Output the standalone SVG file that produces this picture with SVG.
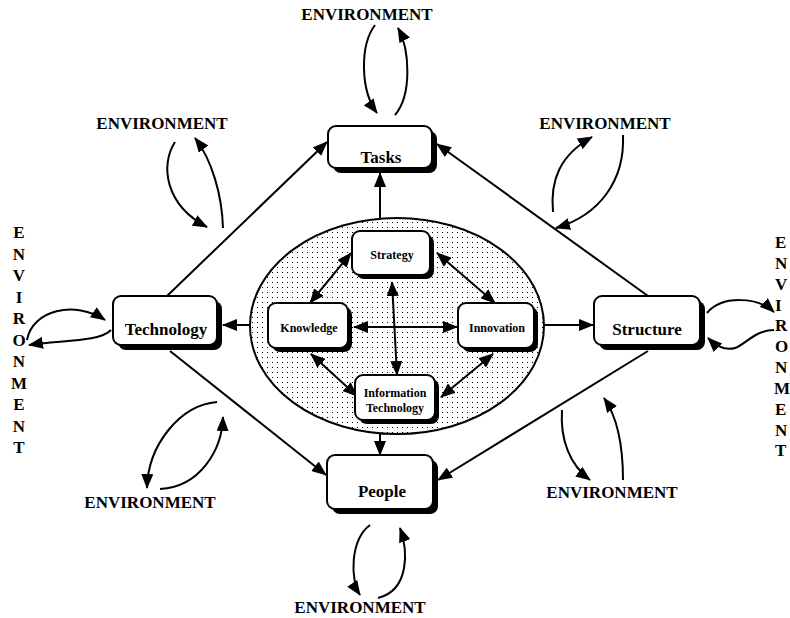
<svg xmlns="http://www.w3.org/2000/svg" width="790" height="618" viewBox="0 0 790 618">
  <style>
    .box { fill: #fff; stroke: #000; stroke-width: 2; }
    .shadow { fill: #000; }
    .lbl { font-family: "Liberation Serif", "Times New Roman", serif; font-weight: bold; fill: #000; text-anchor: middle; }
    .big { font-size: 17px; }
    .small { font-size: 12px; }
    .env { font-family: "Liberation Serif", "Times New Roman", serif; font-weight: bold; font-size: 17px; fill: #000; text-anchor: middle; }
    .envl { font-family: "Liberation Serif", "Times New Roman", serif; font-weight: bold; font-size: 17px; fill: #000; }
    .ln { fill: none; stroke: #000; stroke-width: 2; }
    .arr { marker-end: url(#ah); }
    .dbl { marker-start: url(#ahs); marker-end: url(#ah); }
  </style>
  <defs>
    <marker id="ah" viewBox="0 0 15 12" refX="14" refY="6" markerWidth="15" markerHeight="12" markerUnits="userSpaceOnUse" orient="auto">
      <path d="M0,0 L15,6 L0,12 Z" fill="#000"/>
    </marker>
    <marker id="ahs" viewBox="0 0 15 12" refX="1" refY="6" markerWidth="15" markerHeight="12" markerUnits="userSpaceOnUse" orient="auto">
      <path d="M15,0 L0,6 L15,12 Z" fill="#000"/>
    </marker>
    <pattern id="dots" width="5" height="5" patternUnits="userSpaceOnUse">
      <rect x="2" y="2" width="1" height="1" fill="#000"/>
    </pattern>
  </defs>

  <!-- central ellipse -->
  <ellipse id="core" cx="397" cy="326" rx="147" ry="108" fill="url(#dots)" stroke="#000" stroke-width="2"/>

  <g id="connectors">
    <!-- outer diamond -->
    <line class="ln arr" x1="167" y1="296" x2="327" y2="142"/>
    <line class="ln arr" x1="648" y1="296" x2="437" y2="144"/>
    <line class="ln arr" x1="170" y1="351" x2="326" y2="475"/>
    <line class="ln arr" x1="648" y1="351" x2="438" y2="480"/>
    <!-- ellipse to outer nodes -->
    <line class="ln arr" x1="380" y1="218" x2="380" y2="173"/>
    <line class="ln arr" x1="250" y1="325" x2="223" y2="325"/>
    <line class="ln arr" x1="545" y1="325" x2="593" y2="325"/>
    <line class="ln arr" x1="380" y1="434" x2="380" y2="455"/>
    <!-- inner links -->
    <line class="ln dbl" x1="351" y1="253" x2="310" y2="303"/>
    <line class="ln dbl" x1="437" y1="253" x2="495" y2="303"/>
    <line class="ln dbl" x1="354" y1="327" x2="457" y2="327"/>
    <line class="ln dbl" x1="392" y1="282" x2="397" y2="375"/>
    <line class="ln dbl" x1="311" y1="354" x2="357" y2="396"/>
    <line class="ln dbl" x1="493" y1="354" x2="441" y2="397"/>

    <!-- environment loops: top -->
    <path class="ln arr" d="M375,25 C360,45 360,90 377,113"/>
    <path class="ln arr" d="M395,115 C412,95 410,50 398,28"/>
    <!-- top left -->
    <path class="ln arr" d="M175,142 C160,165 165,205 207,227"/>
    <path class="ln arr" d="M223,228 C222,195 212,160 195,138"/>
    <!-- top right -->
    <path class="ln arr" d="M553,212 C550,180 560,155 592,137"/>
    <path class="ln arr" d="M623,135 C625,180 600,215 556,228"/>
    <!-- left -->
    <path class="ln arr" d="M27,340 C32,310 75,300 105,320"/>
    <path class="ln arr" d="M111,330 C100,342 60,340 29,345"/>
    <!-- right -->
    <path class="ln arr" d="M707,313 C722,295 758,297 774,312"/>
    <path class="ln arr" d="M774,330 C755,330 745,345 735,348 C725,351 715,345 708,338"/>
    <!-- bottom left -->
    <path class="ln arr" d="M217,402 C180,405 148,445 147,488"/>
    <path class="ln arr" d="M160,489 C200,487 222,450 223,417"/>
    <!-- bottom right -->
    <path class="ln arr" d="M562,410 C560,440 570,465 590,480"/>
    <path class="ln arr" d="M623,480 C623,445 618,418 604,398"/>
    <!-- bottom -->
    <path class="ln arr" d="M370,525 C350,540 350,580 360,595"/>
    <path class="ln arr" d="M378,598 C410,590 408,550 400,528"/>
  </g>

  <g id="tasks">
    <rect class="shadow" x="333" y="131" width="104" height="42" rx="8"/>
    <rect class="box" x="328" y="126" width="104" height="42" rx="8"/>
    <text class="lbl big" x="381" y="163">Tasks</text>
  </g>
  <g id="technology">
    <rect class="shadow" x="118" y="301" width="104" height="49" rx="8"/>
    <rect class="box" x="113" y="296" width="104" height="49" rx="8"/>
    <text class="lbl big" x="166" y="335">Technology</text>
  </g>
  <g id="structure">
    <rect class="shadow" x="599" y="301" width="106" height="49" rx="8"/>
    <rect class="box" x="594" y="296" width="106" height="49" rx="8"/>
    <text class="lbl big" x="647" y="335">Structure</text>
  </g>
  <g id="people">
    <rect class="shadow" x="332" y="460" width="106" height="54" rx="8"/>
    <rect class="box" x="327" y="455" width="106" height="54" rx="8"/>
    <text class="lbl big" x="382" y="497">People</text>
  </g>

  <g id="strategy">
    <rect class="shadow" x="356" y="235" width="78" height="44" rx="8"/>
    <rect class="box" x="352" y="231" width="78" height="44" rx="8"/>
    <text class="lbl small" x="392" y="259">Strategy</text>
  </g>
  <g id="knowledge">
    <rect class="shadow" x="272" y="307" width="80" height="45" rx="8"/>
    <rect class="box" x="268" y="303" width="80" height="45" rx="8"/>
    <text class="lbl small" x="309" y="332">Knowledge</text>
  </g>
  <g id="innovation">
    <rect class="shadow" x="462" y="307" width="76" height="45" rx="8"/>
    <rect class="box" x="458" y="303" width="76" height="45" rx="8"/>
    <text class="lbl small" x="497" y="332">Innovation</text>
  </g>
  <g id="information-technology">
    <rect class="shadow" x="359" y="379" width="80" height="45" rx="8"/>
    <rect class="box" x="355" y="375" width="80" height="45" rx="8"/>
    <text class="lbl small" x="395" y="397">Information</text>
    <text class="lbl small" x="395" y="412">Technology</text>
  </g>

  <!-- environment labels -->
  <text class="env" x="367" y="20">ENVIRONMENT</text>
  <text class="env" x="162" y="129">ENVIRONMENT</text>
  <text class="env" x="605" y="129">ENVIRONMENT</text>
  <text class="env" x="150" y="508">ENVIRONMENT</text>
  <text class="env" x="612" y="498">ENVIRONMENT</text>
  <text class="env" x="360" y="613">ENVIRONMENT</text>

  <!-- vertical label, left -->
  <g>
    <text class="env" x="19" y="238">E</text>
    <text class="env" x="19" y="259.5">N</text>
    <text class="env" x="19" y="281">V</text>
    <text class="env" x="19" y="302.5">I</text>
    <text class="env" x="19" y="324">R</text>
    <text class="env" x="19" y="345.5">O</text>
    <text class="env" x="19" y="367">N</text>
    <text class="env" x="19" y="388.5">M</text>
    <text class="env" x="19" y="410">E</text>
    <text class="env" x="19" y="431.5">N</text>
    <text class="env" x="19" y="453">T</text>
  </g>
  <!-- vertical label, right -->
  <g>
    <text class="envl" x="775" y="248">E</text>
    <text class="envl" x="775" y="269">N</text>
    <text class="envl" x="775" y="290">V</text>
    <text class="envl" x="775" y="311">I</text>
    <text class="envl" x="775" y="331">R</text>
    <text class="envl" x="775" y="352">O</text>
    <text class="envl" x="775" y="373">N</text>
    <text class="envl" x="774" y="394">M</text>
    <text class="envl" x="775" y="415">E</text>
    <text class="envl" x="775" y="436">N</text>
    <text class="envl" x="775" y="456">T</text>
  </g>
</svg>
